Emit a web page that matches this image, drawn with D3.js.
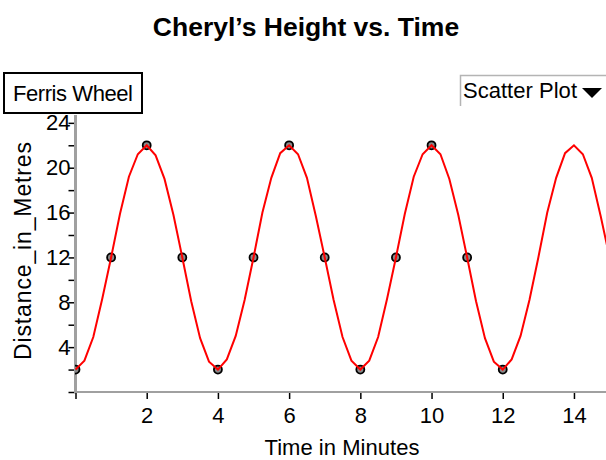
<!DOCTYPE html>
<html>
<head>
<meta charset="utf-8">
<script src="https://cdn.jsdelivr.net/npm/d3@7"></script>
<style>
  body { margin: 0; background: #fff; }
  text { font-family: "Liberation Sans", Arial, sans-serif; fill: #000; }
</style>
</head>
<body>
<div id="chart"></div>
<script>
// Cheryl's height on the Ferris wheel, measured points
const pointTimes = [0, 1, 2, 3, 4, 5, 6, 7, 8, 9, 10, 11, 12];
const pointHeights = [2, 12, 22, 12, 2, 12, 22, 12, 2, 12, 22, 12, 2];

const curveTimes = d3.range(0, 15.01, 0.25);
const curveHeights = [
  2, 2.8, 4.9, 8.3, 12, 15.9, 19.2, 21.2, 22, 21.1, 19.0, 15.8,
  12, 8.1, 4.8, 2.7, 2, 2.9, 5.0, 8.2, 12, 16.0, 19.1, 21.3,
  22, 21.2, 19.1, 15.7, 12, 8.2, 4.9, 2.8, 2, 2.8, 4.9, 8.3,
  12, 15.9, 19.2, 21.2, 22, 21.2, 19.0, 15.8, 12, 8.1, 4.8, 2.7,
  2, 2.9, 5.0, 8.2, 12, 16.0, 19.1, 21.3, 22, 21.2, 19.1, 15.7, 12
];

const xTicks = [0, 2, 4, 6, 8, 10, 12, 14];
const yTicks = [0, 2, 4, 6, 8, 10, 12, 14, 16, 18, 20, 22, 24];

const width = 606, height = 460;
const svg = d3.select('#chart').append('svg')
  .attr('width', width)
  .attr('height', height);

const x = d3.scaleLinear().domain([0, 14.9]).range([75.5, 606]);
const y = d3.scaleLinear().domain([0, 24.7]).range([392, 115]);

// title
svg.append('text')
  .attr('x', 306).attr('y', 36)
  .attr('text-anchor', 'middle')
  .style('font-size', '26.5px').style('font-weight', 'bold')
  .text('Cheryl’s Height vs. Time');

const plot = svg.append('g');
plot.append('clipPath').attr('id', 'clip')
  .append('rect').attr('x', 75).attr('y', 100).attr('width', 531).attr('height', 293);

// axes
const xAxis = d3.axisBottom(x).tickValues(xTicks).tickSize(7)
  .tickFormat(d => d === 0 ? '' : d);
const gx = plot.append('g').attr('transform', 'translate(0,392)').call(xAxis);
gx.select('.domain').remove();
gx.selectAll('.tick line').attr('stroke', '#000').attr('stroke-width', 1.5);
gx.selectAll('.tick text').attr('y', 31).attr('dy', null)
  .style('font-size', '22px').style('font-family', '"Liberation Sans", Arial, sans-serif');

const yAxis = d3.axisLeft(y).tickValues(yTicks).tickSize(7)
  .tickFormat(d => (d > 0 && d % 4 === 0) ? d : '');
const gy = plot.append('g').attr('transform', 'translate(75.5,0)').call(yAxis);
gy.select('.domain').remove();
gy.selectAll('.tick line').attr('stroke', '#000').attr('stroke-width', 1.5);
gy.selectAll('.tick text').attr('x', -5)
  .style('font-size', '22px').style('font-family', '"Liberation Sans", Arial, sans-serif');

// axis lines in grey
plot.append('line')
  .attr('x1', 75.5).attr('x2', 75.5).attr('y1', y(24.7)).attr('y2', 393)
  .attr('stroke', '#a0a0a0').attr('stroke-width', 3);
plot.append('line')
  .attr('x1', 74).attr('x2', 606).attr('y1', 392).attr('y2', 392)
  .attr('stroke', '#a0a0a0').attr('stroke-width', 2);

// points
plot.append('g').attr('clip-path', 'url(#clip)')
  .selectAll('circle')
  .data(pointTimes.map((t, i) => [t, pointHeights[i]]))
  .enter().append('circle')
  .attr('cx', d => x(d[0]))
  .attr('cy', d => y(d[1]))
  .attr('r', 4)
  .attr('fill', '#888')
  .attr('stroke', '#000')
  .attr('stroke-width', 1.8);

// curve
const line = d3.line()
  .x((d, i) => x(curveTimes[i]))
  .y(d => y(d))
  .curve(d3.curveLinear);
plot.append('path')
  .attr('clip-path', 'url(#clip)')
  .datum(curveHeights)
  .attr('d', line)
  .attr('fill', 'none')
  .attr('stroke', '#ff0000')
  .attr('stroke-width', 2);

// axis titles
svg.append('text')
  .attr('x', 342).attr('y', 455)
  .attr('text-anchor', 'middle')
  .attr('textLength', 155)
  .style('font-size', '22px')
  .text('Time in Minutes');

svg.append('text')
  .attr('transform', 'translate(31,251) rotate(-90)')
  .attr('text-anchor', 'middle')
  .attr('textLength', 218)
  .style('font-size', '23px')
  .text('Distance_in_Metres');

// "Ferris Wheel" box
svg.append('rect')
  .attr('x', 4).attr('y', 73).attr('width', 138).attr('height', 40)
  .attr('fill', '#fff').attr('stroke', '#000').attr('stroke-width', 2);
svg.append('text')
  .attr('x', 13).attr('y', 101)
  .attr('textLength', 120)
  .style('font-size', '22px')
  .text('Ferris Wheel');

// "Scatter Plot" dropdown
svg.append('path')
  .attr('d', 'M460.5,106 V75.5 H606')
  .attr('fill', 'none').attr('stroke', '#b4b4b4').attr('stroke-width', 1.5);
svg.append('text')
  .attr('x', 463).attr('y', 98)
  .attr('textLength', 114)
  .style('font-size', '22px')
  .text('Scatter Plot');
svg.append('path')
  .attr('d', 'M582,88 L602,88 L592,98 Z')
  .attr('fill', '#000');
</script>
</body>
</html>
